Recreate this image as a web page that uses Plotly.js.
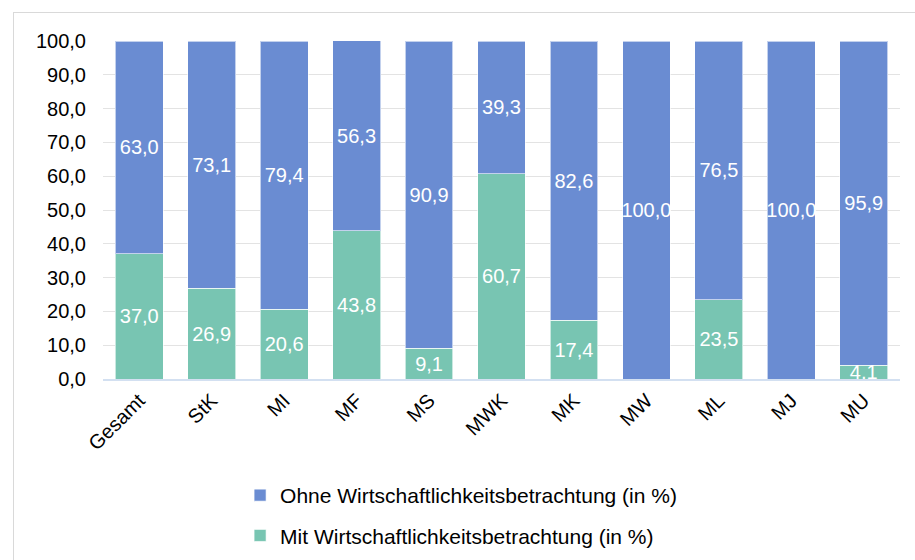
<!DOCTYPE html>
<html>
<head>
<meta charset="utf-8">
<script src="https://cdn.plot.ly/plotly-3.0.1.min.js"></script>
<style>
  body { margin: 0; background: #fff; }
  #frame { position: absolute; left: 13px; top: 12px; width: 920px; height: 560px; border: 1px solid #d9d9d9; }
  #chart { position: absolute; left: 0; top: 0; width: 915px; height: 560px; }
</style>
</head>
<body>
<div id="frame"></div>
<div id="chart"></div>
<script>
// Ressorts
var ressorts = ["Gesamt", "StK", "MI", "MF", "MS", "MWK", "MK", "MW", "ML", "MJ", "MU"];

// Anteile in %
var mitWert = [37.0, 26.9, 20.6, 43.8, 9.1, 60.7, 17.4, 0.0, 23.5, 0.0, 4.1];
var ohneWert = [63.0, 73.1, 79.4, 56.3, 90.9, 39.3, 82.6, 100.0, 76.5, 100.0, 95.9];

var blau = "#6a8cd2";
var gruen = "#78c5b2";

function deZahl(v) {
    if (v === 0) return "";
    return v.toFixed(1).replace(".", ",");
}

var mitTrace = {
    x: ressorts,
    y: mitWert,
    name: "Mit Wirtschaftlichkeitsbetrachtung (in %)",
    type: "bar",
    legendgroup: "mit",
    legendrank: 2,
    marker: {color: gruen, line: {color: "rgba(255,255,255,0.6)", width: 1}},
    text: mitWert.map(deZahl),
    textposition: "inside",
    insidetextanchor: "middle",
    textangle: 0,
    textfont: {color: "#ffffff", size: 20},
    hoverinfo: "x+y"
};

var ohneTrace = {
    x: ressorts,
    y: ohneWert,
    name: "Ohne Wirtschaftlichkeitsbetrachtung (in %)",
    type: "bar",
    legendgroup: "ohne",
    legendrank: 1,
    marker: {color: blau, line: {color: "rgba(255,255,255,0.6)", width: 1}},
    text: ohneWert.map(deZahl),
    textposition: "inside",
    insidetextanchor: "middle",
    textangle: 0,
    textfont: {color: "#ffffff", size: 20},
    hoverinfo: "x+y"
};

var layout = {
    barmode: "stack",
    bargap: 0.34,
    separators: ",.",
    paper_bgcolor: "rgba(0,0,0,0)",
    plot_bgcolor: "rgba(0,0,0,0)",
    font: {family: "Liberation Sans, Arial, sans-serif", color: "#000000", size: 20},
    margin: {l: 103, r: 15, t: 41, b: 181, autoexpand: false},
    uniformtext: {mode: "show", minsize: 20},
    xaxis: {
        tickangle: -45,
        tickfont: {size: 20},
        showline: true,
        linecolor: "#d3e0f1",
        linewidth: 2,
        ticks: "",
        showgrid: false,
        automargin: false
    },
    yaxis: {
        range: [0, 100],
        dtick: 10,
        tickformat: ".1f",
        tickfont: {size: 20},
        ticklabelstandoff: 16,
        gridcolor: "#e3e3e3",
        gridwidth: 1,
        zeroline: false,
        ticks: "",
        automargin: false
    },
    showlegend: true,
    legend: {
        orientation: "v",
        traceorder: "grouped",
        tracegroupgap: 10,
        x: 0.172,
        y: -0.284,
        xanchor: "left",
        yanchor: "top",
        itemwidth: 30,
        font: {size: 21}
    }
};

Plotly.newPlot("chart", [mitTrace, ohneTrace], layout, {displayModeBar: false, staticPlot: true});
</script>
</body>
</html>
